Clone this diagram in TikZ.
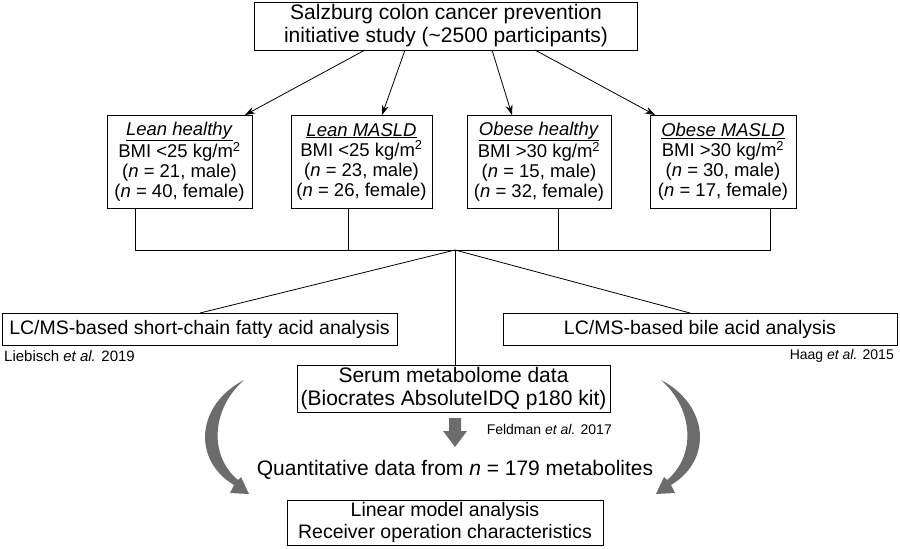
\documentclass[tikz,border=0pt]{standalone}
\usepackage{fontspec}
\setmainfont{Liberation Sans}
\usetikzlibrary{arrows.meta}
\begin{document}
\begin{tikzpicture}[x=1pt,y=-1pt,
 box/.style={draw,line width=0.8pt,inner sep=0pt,align=center},
 big/.style={font=\fontsize{21}{23}\selectfont},
 mid/.style={font=\fontsize{19.5}{21.5}\selectfont},
 grp/.style={font=\fontsize{18.5}{20}\selectfont},
 txt/.style={inner sep=0pt,font=\fontsize{21}{23}\selectfont},
 small/.style={inner sep=0pt,font=\fontsize{14}{16}\selectfont},
 ln/.style={line width=0.8pt},
 arr/.style={line width=0.8pt,-{Stealth[length=10pt,width=7pt]}}]
\useasboundingbox (0,0) rectangle (900,549);
\node[box,big,minimum width=383,minimum height=48] (top) at (446,26) {Salzburg colon cancer prevention\\initiative study (\textasciitilde2500 participants)};
\node[box,grp,minimum width=145,minimum height=93] (b1) at (179.5,161.5) {\underline{\textit{Lean healthy}}\\BMI <25 kg/m\textsuperscript{2}\\(\textit{n} = 21, male)\\(\textit{n} = 40, female)};
\node[box,grp,minimum width=141,minimum height=93] (b2) at (361.5,161.5) {\underline{\textit{Lean MASLD}}\\BMI <25 kg/m\textsuperscript{2}\\(\textit{n} = 23, male)\\(\textit{n} = 26, female)};
\node[box,grp,minimum width=144,minimum height=93] (b3) at (539,161.5) {\underline{\textit{Obese healthy}}\\BMI >30 kg/m\textsuperscript{2}\\(\textit{n} = 15, male)\\(\textit{n} = 32, female)};
\node[box,grp,minimum width=146,minimum height=93] (b4) at (723,161.5) {\underline{\textit{Obese MASLD}}\\BMI >30 kg/m\textsuperscript{2}\\(\textit{n} = 30, male)\\(\textit{n} = 17, female)};
\draw[arr] (365,50) -- (245,115);
\draw[arr] (405,50) -- (382,115);
\draw[arr] (492,50) -- (512,115);
\draw[arr] (535,50) -- (655,115);
\coordinate (hub) at (455,250);
\draw[ln] (135,208) -- (135,250) -- (770,250) -- (770,208);
\draw[ln] (348,208) -- (348,250);
\draw[ln] (558,208) -- (558,250);
\node[box,mid,minimum width=395,minimum height=32] (sc) at (199.5,329) {LC/MS-based short-chain fatty acid analysis};
\node[box,mid,minimum width=394,minimum height=32] (ba) at (700,329) {LC/MS-based bile acid analysis};
\node[box,big,minimum width=313,minimum height=47] (se) at (453.5,388.5) {Serum metabolome data\\(Biocrates AbsoluteIDQ p180 kit)};
\draw[ln] (hub) -- (200,313);
\draw[ln] (hub) -- (690,313);
\draw[ln] (hub) -- (se.north -| hub);
\node[small,anchor=west,font=\fontsize{15}{17}\selectfont] (l1) at (4,356) {Liebisch \textit{et al.} 2019};
\node[small,anchor=east] (l2) at (894,356) {Haag \textit{et al.} 2015};
\node[small,anchor=east] (l3) at (612,429) {Feldman \textit{et al.} 2017};
\node[txt] (q) at (455,470) {Quantitative data from \textit{n} = 179 metabolites};
\node[box,mid,minimum width=316,minimum height=45] (lm) at (445,522.5) {Linear model analysis\\Receiver operation characteristics};
\fill[gray!85!black] (449,418) -- (461,418) -- (461,431) -- (467,431) -- (455,447) -- (443,431) -- (449,431) -- cycle;
\fill[gray!85!black] (244,380) .. controls (196,405) and (192,460) .. (234,485) -- (230,493) -- (249,494) -- (241,477) -- (238,480) .. controls (208,455) and (212,408) .. (244,380) -- cycle;
\fill[gray!85!black] (661,380) .. controls (709,405) and (713,460) .. (671,485) -- (675,493) -- (656,494) -- (664,477) -- (667,480) .. controls (697,455) and (693,408) .. (661,380) -- cycle;
\end{tikzpicture}
\end{document}
